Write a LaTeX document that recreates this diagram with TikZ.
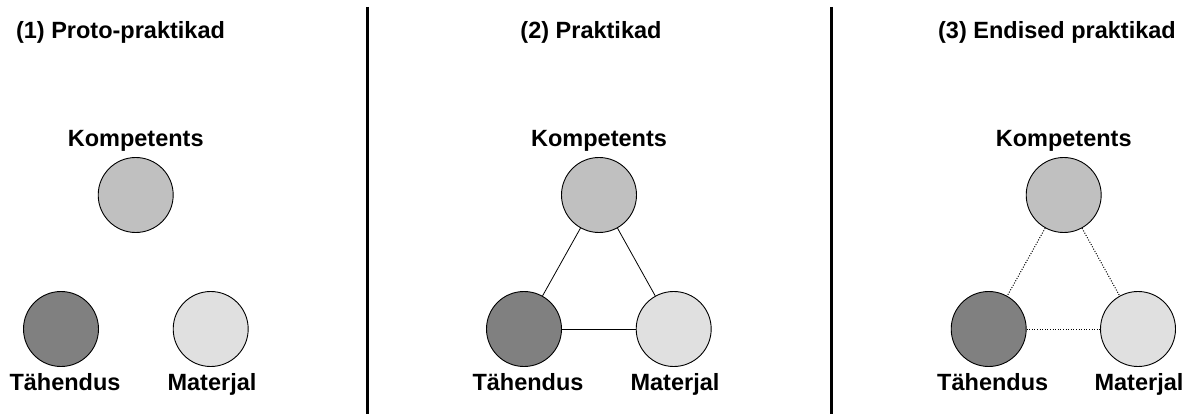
\documentclass[tikz,border=0pt]{standalone}
\usepackage{fontspec}
\setmainfont{Liberation Sans}
\begin{document}
\begin{tikzpicture}[x=1pt,y=-1pt,
  lbl/.style={font=\bfseries\fontsize{23.5}{27}\selectfont, anchor=base, inner sep=0pt},
  ball/.style={circle, draw=black, line width=0.9pt, minimum size=75pt, inner sep=0pt},
  komp/.style={ball, fill=komcol},
  tah/.style={ball, fill=tahcol},
  mat/.style={ball, fill=matcol},
  divider/.style={line width=3pt, black},
  link/.style={line width=0.8pt, black},
  weaklink/.style={line width=1pt, black, dash pattern=on 1pt off 1.6pt}]
\definecolor{komcol}{HTML}{C0C0C0}
\definecolor{tahcol}{HTML}{808080}
\definecolor{matcol}{HTML}{E0E0E0}
\useasboundingbox[fill=white] (0,0) rectangle (1186,414);

% panel dividers
\coordinate (d1t) at (367,7);  \coordinate (d1b) at (367,414);
\coordinate (d2t) at (831,7);  \coordinate (d2b) at (831,414);
\draw[divider] (d1t) -- (d1b);
\draw[divider] (d2t) -- (d2b);

% (1) separate elements
\node[lbl] (t1) at (120.5,38.5) {(1) Proto-praktikad};
\node[komp] (k1) at (135.7,195) {};
\node[tah]  (h1) at (61,329) {};
\node[mat]  (m1) at (210.7,329) {};
\node[lbl] (kl1) at (135.7,146.5) {Kompetents};
\node[lbl] (hl1) at (65,390.5) {Tähendus};
\node[lbl] (ml1) at (212,390.5) {Materjal};

% (2) linked elements
\node[lbl] (t2) at (591,38.5) {(2) Praktikad};
\node[komp] (k2) at (599,195) {};
\node[tah]  (h2) at (524,329) {};
\node[mat]  (m2) at (673.7,329) {};
\node[lbl] (kl2) at (599,146.5) {Kompetents};
\node[lbl] (hl2) at (528,390.5) {Tähendus};
\node[lbl] (ml2) at (675,390.5) {Materjal};
\draw[link] (k2) -- (h2);
\draw[link] (k2) -- (m2);
\draw[link] (h2) -- (m2);

% (3) broken links
\node[lbl] (t3) at (1057,38.5) {(3) Endised praktikad};
\node[komp] (k3) at (1063.7,195) {};
\node[tah]  (h3) at (988.7,329) {};
\node[mat]  (m3) at (1138,329) {};
\node[lbl] (kl3) at (1063.7,146.5) {Kompetents};
\node[lbl] (hl3) at (992.7,390.5) {Tähendus};
\node[lbl] (ml3) at (1139,390.5) {Materjal};
\draw[weaklink] (k3) -- (h3);
\draw[weaklink] (k3) -- (m3);
\draw[weaklink] (h3) -- (m3);
\end{tikzpicture}
\end{document}
